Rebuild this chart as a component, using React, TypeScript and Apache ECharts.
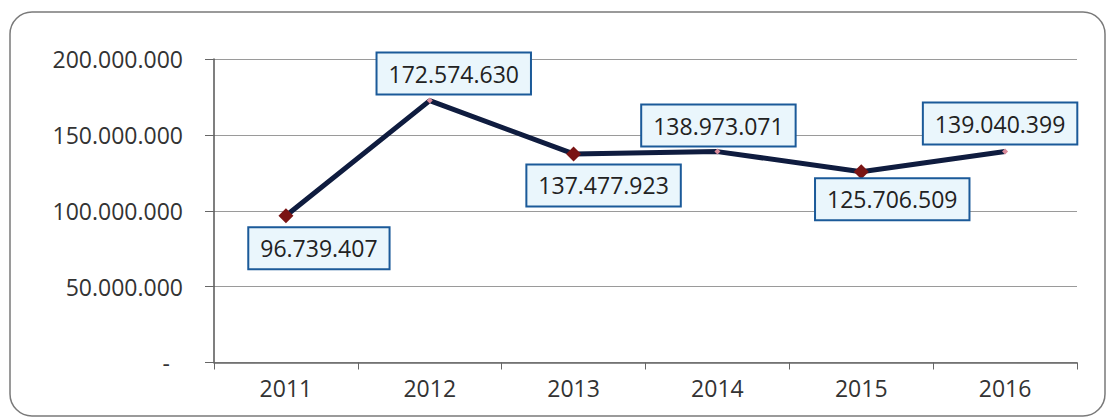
import React, { useEffect, useRef } from "react";
import * as echarts from "echarts";

const categories = ["2011", "2012", "2013", "2014", "2015", "2016"];
const values = [96739407, 172574630, 137477923, 138973071, 125706509, 139040399];
const yTicks = [0, 50000000, 100000000, 150000000, 200000000];

const labelPlacement = [
  { position: "bottom", distance: 5, offset: [33, 0] },
  { position: "top", distance: 4, offset: [24, 0] },
  { position: "bottom", distance: 4, offset: [30, 0] },
  { position: "top", distance: 3, offset: [1, 0] },
  { position: "bottom", distance: 0, offset: [31, 0] },
  { position: "top", distance: 5, offset: [-5, 0] },
];
const bigMarker = [true, false, true, false, true, false];

const fmt = (v: number) =>
  Math.round(v).toString().replace(/\B(?=(\d{3})+(?!\d))/g, ".");

export default function App() {
  const ref = useRef<HTMLDivElement>(null);
  useEffect(() => {
    if (!ref.current) return;
    const chart = echarts.init(ref.current, undefined, { renderer: "svg" });
    const font = "'Open Sans', sans-serif";
    chart.setOption({
      animation: false,
      backgroundColor: "#ffffff",
      graphic: [
        {
          type: "rect",
          shape: { x: 10, y: 12, width: 1095, height: 404, r: 22 },
          style: { fill: "none", stroke: "#7a7a7a", lineWidth: 1.5 },
          silent: true,
        },
      ],
      grid: { left: 214, right: 37, top: 59, bottom: 55.5, containLabel: false },
      xAxis: {
        type: "category",
        data: categories,
        boundaryGap: true,
        axisLine: { show: true, lineStyle: { color: "#666", width: 1.5 } },
        axisTick: { show: true, length: 7, lineStyle: { color: "#666" } },
        axisLabel: {
          color: "#333",
          fontFamily: font,
          fontSize: 23,
          margin: 14,
        },
      },
      yAxis: {
        type: "value",
        min: yTicks[0],
        max: yTicks[yTicks.length - 1],
        interval: yTicks[1] - yTicks[0],
        axisLine: { show: true, lineStyle: { color: "#555", width: 1.5 } },
        axisTick: { show: true, length: 9, lineStyle: { color: "#666" } },
        splitLine: { show: true, lineStyle: { color: "#9a9a9a", width: 1.2 } },
        axisLabel: {
          color: "#333",
          fontFamily: font,
          fontSize: 23,
          margin: 31,
          formatter: (v: number) => (v === 0 ? "{d|-}" : fmt(v)),
          rich: {
            d: { fontFamily: font, fontSize: 23, color: "#333", padding: [0, 13, 0, 0] },
          },
        },
      },
      series: [
        {
          type: "line",
          data: values.map((v, i) => ({
            value: v,
            symbol: "diamond",
            symbolSize: bigMarker[i] ? 15 : 6,
            itemStyle: { color: bigMarker[i] ? "#7a1414" : "#d98a9a" },
            label: {
              show: true,
              position: labelPlacement[i].position,
              distance: labelPlacement[i].distance,
              offset: labelPlacement[i].offset,
            },
          })),
          lineStyle: { color: "#0f1c3f", width: 5 },
          label: {
            show: true,
            formatter: (p: any) => fmt(p.value),
            fontFamily: font,
            fontSize: 23,
            color: "#222",
            lineHeight: 26,
            backgroundColor: "#eaf6fc",
            borderColor: "#1b5a99",
            borderWidth: 2,
            padding: [7, 11, 7, 11],
          },
          z: 3,
        },
      ],
    });
    return () => chart.dispose();
  }, []);
  return <div ref={ref} style={{ width: 1114, height: 418, marginLeft: -8, marginTop: -8 }} />;
}
